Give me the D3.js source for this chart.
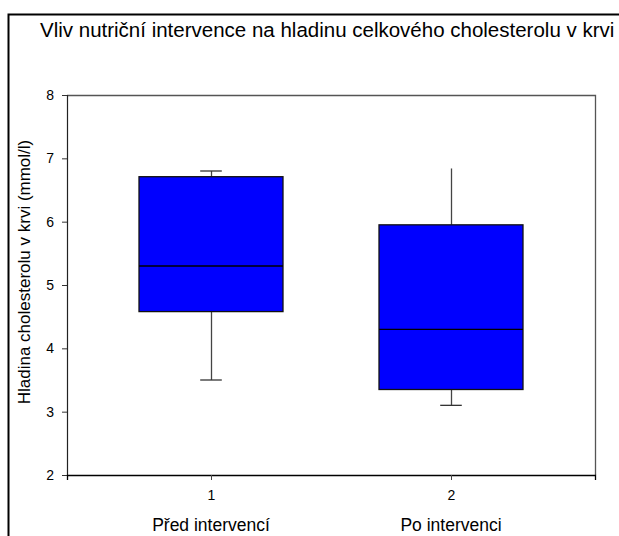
<!DOCTYPE html>
<html>
<head>
<meta charset="utf-8">
<script src="https://cdn.jsdelivr.net/npm/d3@7/dist/d3.min.js"></script>
<style>
  html, body { margin: 0; padding: 0; background: #fff; }
  svg { display: block; font-family: "Liberation Sans", Arial, sans-serif; }
</style>
</head>
<body>
<svg id="chart" width="619" height="536"></svg>
<script>
// Box plot data: total blood cholesterol before / after nutrition intervention
const categories = ["Před intervencí", "Po intervenci"];
const positions = [1, 2];
const whiskerLow = [3.5, 3.1];
const quartile1 = [4.58, 3.35];
const medians = [5.3, 4.3];
const quartile3 = [6.71, 5.95];
const whiskerHigh = [6.8, 6.84];
const topCap = [true, false];
const yTicks = [2, 3, 4, 5, 6, 7, 8];

const titleText = "Vliv nutriční intervence na hladinu celkového cholesterolu v krvi";
const yLabel = "Hladina cholesterolu v krvi (mmol/l)";

const svg = d3.select("#chart");
const plot = { left: 67, right: 595, top: 95, bottom: 475 };

const x = d3.scaleLinear().domain([0.4, 2.6]).range([plot.left, plot.right]);
const y = d3.scaleLinear().domain([2, 8]).range([plot.bottom, plot.top]);

// outer frame
svg.append("rect")
  .attr("x", 8.5).attr("y", 14.5)
  .attr("width", 640).attr("height", 560)
  .attr("fill", "none").attr("stroke", "#000").attr("stroke-width", 2);

// title
svg.append("text")
  .attr("x", 40).attr("y", 37)
  .attr("font-size", 20.5)
  .attr("fill", "#000")
  .text(titleText);

// plot frame (top and right)
svg.append("path")
  .attr("d", `M${plot.left},${plot.top + 0.5}H${plot.right + 0.5}V${plot.bottom}`)
  .attr("fill", "none").attr("stroke", "#555").attr("stroke-width", 1.3);

const data = positions.map((p, i) => ({
  p, lo: whiskerLow[i], q1: quartile1[i], med: medians[i],
  q3: quartile3[i], hi: whiskerHigh[i], cap: topCap[i]
}));

const boxHalf = 0.3, capHalf = 0.045;
const g = svg.append("g");

data.forEach(d => {
  const cx = Math.round(x(d.p)) + 0.5;
  // whiskers
  g.append("line").attr("x1", cx).attr("x2", cx)
    .attr("y1", y(d.q3)).attr("y2", y(d.hi))
    .attr("stroke", "#444").attr("stroke-width", 1.3);
  g.append("line").attr("x1", cx).attr("x2", cx)
    .attr("y1", y(d.q1)).attr("y2", y(d.lo))
    .attr("stroke", "#444").attr("stroke-width", 1.3);
  // caps
  g.append("line")
    .attr("x1", x(d.p - capHalf)).attr("x2", x(d.p + capHalf))
    .attr("y1", y(d.lo)).attr("y2", y(d.lo))
    .attr("stroke", "#333").attr("stroke-width", 1.3);
  if (d.cap) {
    g.append("line")
      .attr("x1", x(d.p - capHalf)).attr("x2", x(d.p + capHalf))
      .attr("y1", y(d.hi)).attr("y2", y(d.hi))
      .attr("stroke", "#333").attr("stroke-width", 1.3);
  }
  // box
  g.append("rect")
    .attr("x", x(d.p - boxHalf)).attr("y", y(d.q3))
    .attr("width", x(d.p + boxHalf) - x(d.p - boxHalf))
    .attr("height", y(d.q1) - y(d.q3))
    .attr("fill", "#0000ff").attr("stroke", "#111").attr("stroke-width", 1.3);
  // median
  g.append("line")
    .attr("x1", x(d.p - boxHalf)).attr("x2", x(d.p + boxHalf))
    .attr("y1", y(d.med)).attr("y2", y(d.med))
    .attr("stroke", "#000").attr("stroke-width", 1.3);
});

// y axis
const yAxis = d3.axisLeft(y).tickValues(yTicks).tickSize(5).tickPadding(8).tickFormat(d3.format("d"));
const ya = svg.append("g").attr("transform", `translate(${plot.left},0)`).call(yAxis);
ya.select(".domain").attr("stroke", "#222").attr("stroke-width", 1.2);
ya.selectAll(".tick line").attr("stroke", "#333");
ya.selectAll(".tick text").attr("font-size", 14).attr("font-family", "Liberation Sans, Arial, sans-serif").attr("fill", "#000");

// x axis
const xAxis = d3.axisBottom(x).tickValues(positions).tickSize(5).tickPadding(10).tickFormat(d3.format("d"));
const xa = svg.append("g").attr("transform", `translate(0,${plot.bottom})`).call(xAxis);
xa.select(".domain").attr("stroke", "#000").attr("stroke-width", 1.3);
xa.selectAll(".tick line").attr("stroke", "#444");
xa.selectAll(".tick text").attr("font-size", 14).attr("font-family", "Liberation Sans, Arial, sans-serif").attr("fill", "#000");

// category labels
svg.selectAll(".cat").data(categories).enter().append("text")
  .attr("class", "cat")
  .attr("x", (d, i) => x(positions[i]))
  .attr("y", 531)
  .attr("text-anchor", "middle")
  .attr("font-size", 17.5)
  .attr("fill", "#000")
  .text(d => d);

// y axis title
svg.append("text")
  .attr("transform", "translate(30,272) rotate(-90)")
  .attr("text-anchor", "middle")
  .attr("font-size", 17)
  .attr("fill", "#000")
  .text(yLabel);
</script>
</body>
</html>
